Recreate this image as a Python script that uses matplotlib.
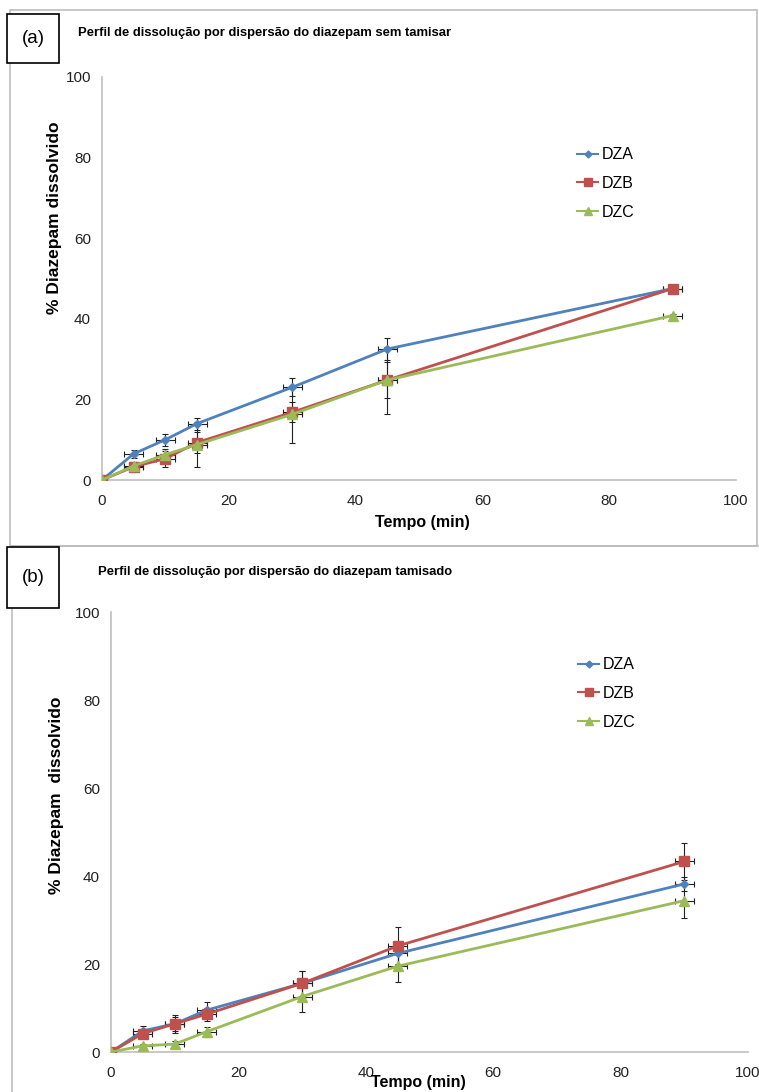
import matplotlib
matplotlib.use("Agg")
import matplotlib.pyplot as plt
from matplotlib.patches import Rectangle
from matplotlib.lines import Line2D

# ===== data =====
tempo = [0, 5, 10, 15, 30, 45, 90]
series_names = ["DZA", "DZB", "DZC"]

# (a) sem tamisar
a_dza = [0, 6.5, 10.0, 14.0, 23.0, 32.5, 47.5]
a_dzb = [0, 3.3, 5.3, 9.3, 16.8, 24.8, 47.5]
a_dzc = [0, 3.5, 6.3, 8.8, 16.3, 24.8, 40.8]
a_err_dza = [0, 1.0, 1.5, 1.5, 2.2, 2.8, 0.5]
a_err_dzb = [0, 1.0, 2.0, 2.5, 2.5, 4.5, 0.5]
a_err_dzc = [0, 1.0, 1.5, 5.6, 7.0, 8.3, 0.5]

# (b) tamisado
b_dza = [0, 4.8, 6.4, 9.5, 15.6, 22.4, 38.2]
b_dzb = [0, 4.2, 6.4, 8.6, 15.6, 24.1, 43.3]
b_dzc = [0, 1.4, 1.8, 4.6, 12.6, 19.5, 34.4]
b_err_dza = [0, 1.0, 1.6, 1.9, 2.8, 2.5, 1.5]
b_err_dzb = [0, 1.0, 2.0, 1.5, 2.8, 4.4, 4.1]
b_err_dzc = [0, 0.5, 0.8, 1.1, 3.4, 3.5, 4.0]

tempo_err = [0, 1.5, 1.5, 1.5, 1.5, 1.5, 1.5]

titles = ["Perfil de dissolução por dispersão do diazepam sem tamisar",
          "Perfil de dissolução por dispersão do diazepam tamisado"]

COLORS = ["#4F81BD", "#C0504D", "#9BBB59"]
MARKERS = ["D", "s", "^"]
MSIZES = [4.5, 6.5, 6.5]

plt.rcParams["font.family"] = ["Liberation Sans", "DejaVu Sans"]

W, H = 759, 1092
fig = plt.figure(figsize=(W / 100, H / 100), dpi=100)


def fx(px):
    return px / W


def fy(py):
    return 1 - py / H


def panel(box, data, errs, title, tag, frame, tagbox, title_xy, ylab, xlab_xy, leg_xy):
    x0, x1, ytop, ybot = box
    ax = fig.add_axes([fx(x0), fy(ybot), fx(x1) - fx(x0), fy(ytop) - fy(ybot)])
    for vals, err, c, m, ms, name in zip(data, errs, COLORS, MARKERS, MSIZES, series_names):
        ax.errorbar(tempo, vals, yerr=err, xerr=tempo_err, color=c, marker=m,
                    markersize=ms, linewidth=2, ecolor="#222222", elinewidth=0.8,
                    capsize=2.5, capthick=0.8, label=name, zorder=3)
    ax.set_xlim(0, 100)
    ax.set_ylim(0, 100)
    ax.set_xticks(range(0, 101, 20))
    ax.set_yticks(range(0, 101, 20))
    for s in ["top", "right"]:
        ax.spines[s].set_visible(False)
    for s in ["left", "bottom"]:
        ax.spines[s].set_color("#BFBFBF")
        ax.spines[s].set_linewidth(1.2)
    ax.tick_params(length=0, pad=8, labelsize=11, colors="#222222")
    ax.tick_params(axis="x", pad=10)

    # legend
    handles = [Line2D([0], [0], color=c, marker=m, markersize=ms - 1, linewidth=1.5)
               for c, m, ms in zip(COLORS, MARKERS, MSIZES)]
    fig.legend(handles, series_names, loc="upper left",
               bbox_to_anchor=(fx(leg_xy[0]), fy(leg_xy[1])), frameon=False,
               handlelength=1.3, handletextpad=0.2, labelspacing=0.85,
               prop={"family": "Liberation Sans", "size": 11.5})

    # frame of the chart area
    fx0, fy0, fx1, fy1 = frame
    fig.add_artist(Rectangle((fx(fx0), fy(fy1)), fx(fx1) - fx(fx0), fy(fy0) - fy(fy1),
                             transform=fig.transFigure, fill=False,
                             edgecolor="#BDBDBD", linewidth=1.2))
    # (a)/(b) box
    bx0, by0, bx1, by1 = tagbox
    fig.add_artist(Rectangle((fx(bx0), fy(by1)), fx(bx1) - fx(bx0), fy(by0) - fy(by1),
                             transform=fig.transFigure, facecolor="white",
                             edgecolor="black", linewidth=1.2))
    fig.text(fx((bx0 + bx1) / 2), fy((by0 + by1) / 2), tag, ha="center", va="center",
             fontsize=13.5)
    fig.text(fx(title_xy[0]), fy(title_xy[1]), title, ha="left", va="center",
             fontsize=9.4, fontweight="bold")
    fig.text(fx(ylab[0]), fy(ylab[1]), ylab[2], rotation=90, ha="center", va="center",
             fontsize=12.5, fontweight="bold")
    fig.text(fx(xlab_xy[0]), fy(xlab_xy[1]), "Tempo (min)", ha="center", va="center",
             fontsize=11.5, fontweight="bold")
    return ax


panel((102, 736, 77, 480), [a_dza, a_dzb, a_dzc], [a_err_dza, a_err_dzb, a_err_dzc],
      titles[0], "(a)", (10, 10, 757, 546), (7, 14, 59, 63), (78, 33),
      (55, 218, "% Diazepam dissolvido"), (422, 522), (563, 133))

panel((111, 748, 612, 1052), [b_dza, b_dzb, b_dzc], [b_err_dza, b_err_dzb, b_err_dzc],
      titles[1], "(b)", (12, 546, 770, 1100), (7, 547, 59, 608), (98, 572),
      (57, 795, "% Diazepam  dissolvido"), (418, 1082), (564, 643))

fig.savefig("out.png", dpi=100)
